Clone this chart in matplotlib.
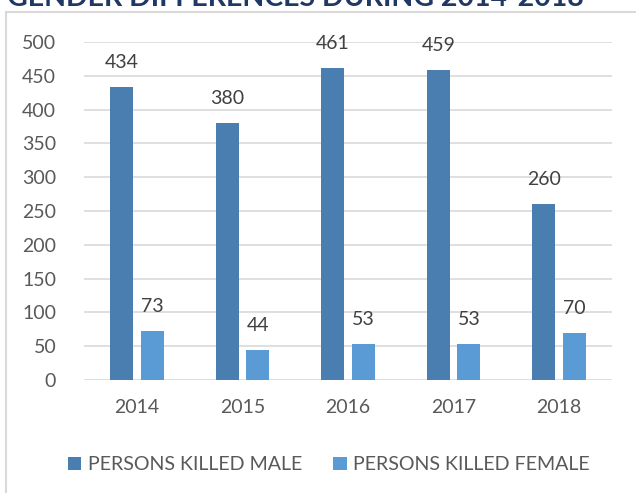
import matplotlib
matplotlib.use("Agg")
import matplotlib.pyplot as plt
from matplotlib.patches import Rectangle
import numpy as np

years = ["2014", "2015", "2016", "2017", "2018"]
male = [434, 380, 461, 459, 260]
female = [73, 44, 53, 53, 70]
series_names = ["PERSONS KILLED MALE", "PERSONS KILLED FEMALE"]
title = "GENDER DIFFERENCES DURING 2014-2018"

plt.rcParams['font.family'] = ['Lato', 'DejaVu Sans']

W, H = 636, 493
fig = plt.figure(figsize=(W/100, H/100), dpi=100)
ax = fig.add_axes([84/W, 1-380/H, (612-84)/W, (380-42)/H])

x = np.arange(len(years))
bw = 0.218
off = 0.145
c_m = '#4A7EB1'
c_f = '#5B9BD5'
b1 = ax.bar(x - off, male, bw, color=c_m, label=series_names[0], zorder=3)
b2 = ax.bar(x + off, female, bw, color=c_f, label=series_names[1], zorder=3)

for rects, vals in ((b1, male), (b2, female)):
    for r, v in zip(rects, vals):
        ax.annotate(str(v), (r.get_x() + r.get_width()/2, v), xytext=(0, 11.5),
                    textcoords='offset points', ha='center', va='bottom',
                    fontsize=14, color='#404040')

ax.set_xlim(-0.5, len(years)-0.5)
ax.set_ylim(0, 500)
ax.set_yticks(range(0, 501, 50))
ax.set_xticks(x)
ax.set_xticklabels(years)
ax.grid(axis='y', color='#D9D9D9', linewidth=1.2, zorder=0)
for s in ax.spines.values():
    s.set_visible(False)
ax.tick_params(axis='both', length=0, labelsize=14, labelcolor='#595959')
ax.tick_params(axis='y', pad=20)
ax.tick_params(axis='x', pad=14)

leg = fig.legend(handles=[b1, b2], labels=series_names, loc='center',
                 bbox_to_anchor=(329/W, 1-465/H), ncol=2, frameon=False,
                 fontsize=14.1, handlelength=0.67, handleheight=0.67,
                 handletextpad=0.35, columnspacing=1.6)
for t in leg.get_texts():
    t.set_color('#595959')

fig.patches.append(Rectangle((6/W, -0.1), 1.0, 1.1 - 12/H, transform=fig.transFigure,
                             fill=False, edgecolor='#D9D9D9', linewidth=1.5))

fig.text(7/W, 1-6/H, title, fontsize=20.5, fontweight='bold', color='#1F3864',
         ha='left', va='baseline')

fig.savefig('out.png', dpi=100)
